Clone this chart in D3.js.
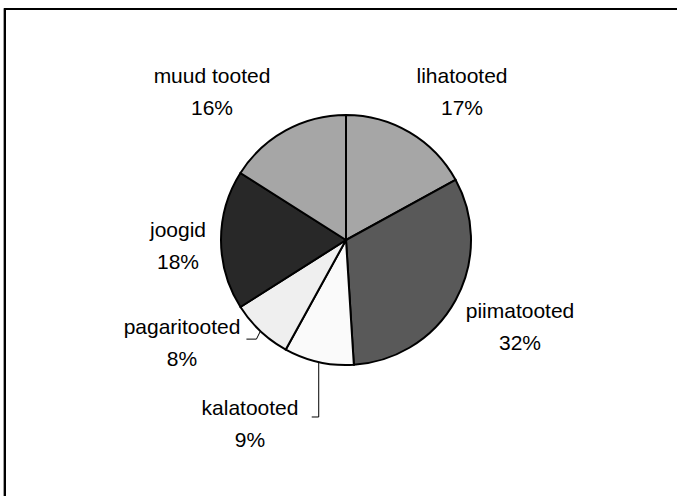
<!DOCTYPE html>
<html>
<head>
<meta charset="utf-8">
<script src="https://cdn.jsdelivr.net/npm/d3@7"></script>
<style>
  html, body { margin: 0; background: #fff; overflow: hidden; }
  svg { display: block; }
  text {
    font-family: "Liberation Sans", Arial, sans-serif;
    font-size: 21px;
    fill: #000;
    text-anchor: middle;
  }
  path.slice { stroke: #000; stroke-width: 2; }
  path.leader { fill: none; stroke: #000; stroke-width: 1; }
</style>
</head>
<body>
<script>

// data, clockwise from 12 o'clock
var categories = ["lihatooted", "piimatooted", "kalatooted", "pagaritooted", "joogid", "muud tooted"];
var shares = [17, 32, 9, 8, 18, 16];
var fills = ["#a6a6a6", "#595959", "#fafafa", "#efefef", "#282828", "#a6a6a6"];

// label placement, offset from the pie centre (dx, dy of the label block)
var labelOffset = [[116, -141], [174, 94], [-96, 191], [-164, 110], [-168, 13], [-134, -141]];

var width = 677,
    height = 496,
    cx = 346,
    cy = 240,
    radius = 125;

var svg = d3.select("body").append("svg")
    .attr("width", width)
    .attr("height", height);

// frame: only the top and left edges fall inside the picture
svg.append("path")
    .attr("d", "M3.5," + height + "V8.5H" + width)
    .attr("fill", "none").attr("stroke", "#a0a0a0").attr("stroke-width", 1);
svg.append("path")
    .attr("d", "M5," + height + "V9H" + width)
    .attr("fill", "none").attr("stroke", "#000").attr("stroke-width", 2);

var pie = d3.pie().sort(null).value(function(d){ return d; });
var arcs = pie(shares);

var arc = d3.arc().innerRadius(0).outerRadius(radius);

var g = svg.append("g").attr("transform", "translate(" + cx + "," + cy + ")");

g.selectAll("path.slice")
    .data(arcs).enter().append("path")
    .attr("class", "slice")
    .attr("fill", function(d, i){ return fills[i]; })
    .attr("d", arc);

// leader lines for the two small slices at the bottom
function edgePoint(d) {
    var a = (d.startAngle + d.endAngle) / 2;
    return [radius * Math.sin(a), -radius * Math.cos(a)];
}
var kala = edgePoint(arcs[2]);
g.append("path").attr("class", "leader")
    .attr("d", "M" + kala[0] + "," + kala[1] + "V" + (kala[1] + 55) + "H" + (kala[0] - 7));
var pag = edgePoint(arcs[3]);
g.append("path").attr("class", "leader")
    .attr("d", "M" + pag[0] + "," + pag[1] + "L" + (pag[0] - 4) + "," + (pag[1] + 8) + "H" + (pag[0] - 14));

var labels = g.selectAll("g.label")
    .data(arcs).enter().append("g")
    .attr("class", "label")
    .attr("transform", function(d, i){
        return "translate(" + labelOffset[i][0] + "," + labelOffset[i][1] + ")";
    });

labels.append("text")
    .attr("y", -16)
    .text(function(d, i){ return categories[i]; });

labels.append("text")
    .attr("y", 16)
    .text(function(d){ return d.value + "%"; });

</script>
</body>
</html>
